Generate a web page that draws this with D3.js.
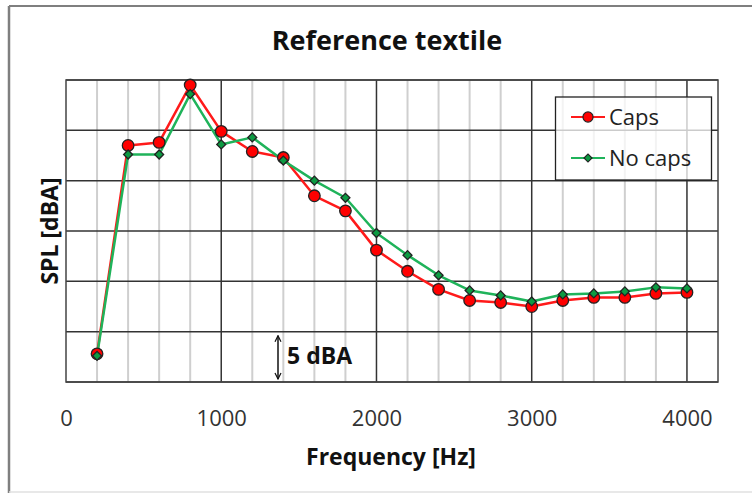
<!DOCTYPE html>
<html>
<head>
<meta charset="utf-8">
<script src="https://cdn.jsdelivr.net/npm/d3@7"></script>
<style>
  body { margin: 0; background: #fff; }
  svg { display: block; font-family: "Open Sans", sans-serif; }
</style>
</head>
<body>
<svg id="chart" width="752" height="493"></svg>
<script>
// data (SPL relative, 5 dBA per gridline)
const freqs = [200, 400, 600, 800, 1000, 1200, 1400, 1600, 1800, 2000, 2200, 2400, 2600, 2800, 3000, 3200, 3400, 3600, 3800, 4000];
const caps = [2.8, 23.5, 23.8, 29.5, 24.9, 22.9, 22.3, 18.5, 17.0, 13.1, 11.0, 9.2, 8.1, 7.9, 7.5, 8.1, 8.4, 8.4, 8.8, 8.9];
const noCaps = [2.6, 22.6, 22.6, 28.6, 23.6, 24.3, 22.0, 20.0, 18.3, 14.8, 12.6, 10.6, 9.1, 8.6, 8.0, 8.7, 8.8, 9.0, 9.4, 9.3];
const xTicks = [0, 1000, 2000, 3000, 4000];
const xMinor = d3.range(200, 4200, 200);
const yTicks = [0, 5, 10, 15, 20, 25, 30];

const svg = d3.select('#chart');
const plotLeft = 66, plotRight = 718, plotTop = 80, plotBottom = 382;

const x = d3.scaleLinear().domain([0, 4200]).range([plotLeft, plotRight]);
const y = d3.scaleLinear().domain([0, 30]).range([plotBottom, plotTop]);

// outer frame
svg.append('line').attr('x1', 9).attr('x2', 752).attr('y1', 6).attr('y2', 6)
    .attr('stroke', '#7f7f7f').attr('stroke-width', 2);
svg.append('line').attr('x1', 9).attr('x2', 9).attr('y1', 6).attr('y2', 493)
    .attr('stroke', '#7f7f7f').attr('stroke-width', 2.5);
svg.append('line').attr('x1', 9).attr('x2', 752).attr('y1', 492).attr('y2', 492)
    .attr('stroke', '#e0e0e0').attr('stroke-width', 1.5);

// title
svg.append('text')
    .attr('x', 387).attr('y', 50)
    .attr('text-anchor', 'middle')
    .attr('font-size', 27).attr('font-weight', 'bold')
    .attr('fill', '#111')
    .text('Reference textile');

const grid = svg.append('g');

// minor vertical gridlines
grid.selectAll('.minor')
    .data(xMinor.filter(d => d % 1000 !== 0))
    .enter().append('line')
    .attr('class', 'minor')
    .attr('x1', d => x(d)).attr('x2', d => x(d))
    .attr('y1', plotTop).attr('y2', plotBottom)
    .attr('stroke', '#cfcfcf').attr('stroke-width', 2);

// major vertical gridlines
grid.selectAll('.majorx')
    .data(xTicks.slice(1))
    .enter().append('line')
    .attr('class', 'majorx')
    .attr('x1', d => x(d)).attr('x2', d => x(d))
    .attr('y1', plotTop).attr('y2', plotBottom)
    .attr('stroke', '#333').attr('stroke-width', 1.5);

// horizontal gridlines
grid.selectAll('.majory')
    .data(yTicks)
    .enter().append('line')
    .attr('class', 'majory')
    .attr('x1', plotLeft).attr('x2', plotRight)
    .attr('y1', d => y(d)).attr('y2', d => y(d))
    .attr('stroke', '#333').attr('stroke-width', 1.5);

grid.append('rect')
    .attr('x', plotLeft).attr('y', plotTop)
    .attr('width', plotRight - plotLeft).attr('height', plotBottom - plotTop)
    .attr('fill', 'none').attr('stroke', '#444').attr('stroke-width', 1.5);

// x tick labels
const xAxis = d3.axisBottom(x).tickValues(xTicks).tickFormat(d3.format('d')).tickSize(0).tickPadding(28);
const gx = svg.append('g').attr('transform', 'translate(0,' + plotBottom + ')').call(xAxis);
gx.select('.domain').remove();
gx.selectAll('text').attr('font-size', 22).attr('fill', '#333').attr('font-family', '"Open Sans", sans-serif');

// axis titles
svg.append('text')
    .attr('x', 391).attr('y', 465)
    .attr('text-anchor', 'middle')
    .attr('font-size', 23).attr('font-weight', 'bold').attr('fill', '#111')
    .text('Frequency [Hz]');

svg.append('text')
    .attr('transform', 'translate(58,231) rotate(-90)')
    .attr('text-anchor', 'middle')
    .attr('font-size', 23).attr('font-weight', 'bold').attr('fill', '#111')
    .text('SPL [dBA]');

// 5 dBA scale arrow
svg.append('defs').append('marker')
    .attr('id', 'arrow').attr('viewBox', '0 0 10 10')
    .attr('refX', 9).attr('refY', 5)
    .attr('markerWidth', 5).attr('markerHeight', 5)
    .attr('orient', 'auto-start-reverse')
    .append('path').attr('d', 'M1,1 L9,5 L1,9').attr('fill', 'none')
    .attr('stroke', '#111').attr('stroke-width', 1.6);

svg.append('line')
    .attr('x1', 278).attr('x2', 278)
    .attr('y1', y(4.6)).attr('y2', y(0.3))
    .attr('stroke', '#111').attr('stroke-width', 1.5)
    .attr('marker-start', 'url(#arrow)').attr('marker-end', 'url(#arrow)');

svg.append('text')
    .attr('x', 287).attr('y', 364)
    .attr('font-size', 23).attr('font-weight', 'bold').attr('fill', '#111')
    .text('5 dBA');

// series
const series = [
    { name: 'Caps', values: caps, color: '#ff1a1a', fill: '#ff0000', shape: 'circle' },
    { name: 'No caps', values: noCaps, color: '#1fb35a', fill: '#0c9a42', shape: 'diamond' }
];

const line = d3.line()
    .x((d, i) => x(freqs[i]))
    .y(d => y(d));

const symCircle = d3.symbol().type(d3.symbolCircle).size(105);
const symDiamond = d3.symbol().type(d3.symbolSquare).size(40);

series.forEach(s => {
    svg.append('path')
        .attr('d', line(s.values))
        .attr('fill', 'none')
        .attr('stroke', s.color)
        .attr('stroke-width', 2.5)
        .attr('stroke-linejoin', 'round');
});

series.forEach(s => {
    svg.append('g').selectAll('path')
        .data(s.values)
        .enter().append('path')
        .attr('d', s.shape === 'circle' ? symCircle : symDiamond)
        .attr('transform', (d, i) => 'translate(' + x(freqs[i]) + ',' + y(d) + ')' + (s.shape === 'diamond' ? ' rotate(45)' : ''))
        .attr('fill', s.fill)
        .attr('stroke', '#222')
        .attr('stroke-width', 1.3);
});

// legend
const legend = svg.append('g');
legend.append('rect')
    .attr('x', 555.5).attr('y', 97)
    .attr('width', 156).attr('height', 83)
    .attr('fill', '#fff').attr('fill-opacity', 0.75)
    .attr('stroke', '#222').attr('stroke-width', 1.3);

const legendY = [117, 158];
series.forEach((s, i) => {
    legend.append('line')
        .attr('x1', 571).attr('x2', 605)
        .attr('y1', legendY[i]).attr('y2', legendY[i])
        .attr('stroke', s.color).attr('stroke-width', 2);
    legend.append('path')
        .attr('d', s.shape === 'circle' ? d3.symbol().type(d3.symbolCircle).size(80)() : d3.symbol().type(d3.symbolSquare).size(32)())
        .attr('transform', 'translate(588,' + legendY[i] + ')' + (s.shape === 'diamond' ? ' rotate(45)' : ''))
        .attr('fill', s.fill).attr('stroke', '#222').attr('stroke-width', 1.2);
    legend.append('text')
        .attr('x', 609).attr('y', legendY[i] + 8)
        .attr('font-size', 22).attr('fill', '#222')
        .text(s.name);
});
</script>
</body>
</html>
